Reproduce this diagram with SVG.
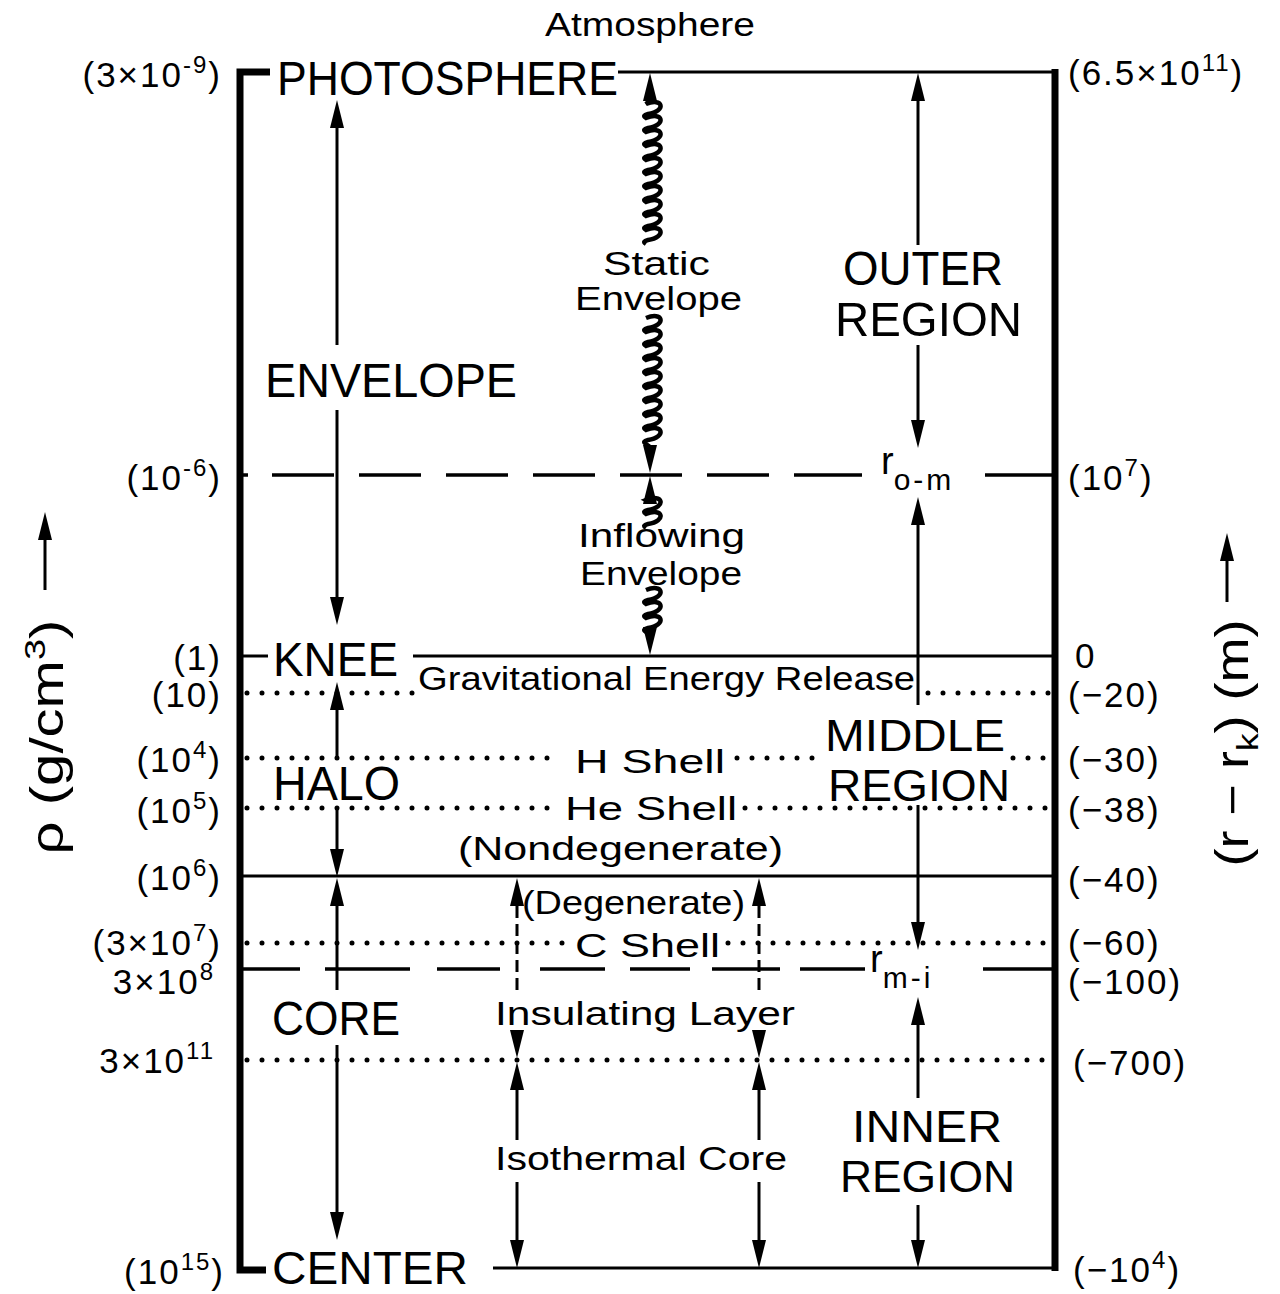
<svg xmlns="http://www.w3.org/2000/svg" width="1280" height="1294" viewBox="0 0 1280 1294">
<style>
.t{font-family:"Liberation Sans",Arial,sans-serif;fill:#000}
.big{font-size:49px}
.reg{font-size:44px}
.mid{font-size:34px}
.num{font-size:35px;letter-spacing:2px}
.ax{font-size:46px}
.frame{stroke:#000;stroke-width:7;fill:none}
.thin{stroke:#000;stroke-width:3;fill:none}
.dot{stroke:#000;stroke-width:5;stroke-dasharray:0 15;stroke-linecap:round;fill:none}
.dash{stroke:#000;stroke-width:3.5;fill:none}
.vd{stroke:#000;stroke-width:3;stroke-dasharray:12 6;fill:none}
.coil{stroke:#000;stroke-width:4.5;fill:none}
</style>
<defs>
<path id="ah" d="M0,0 L-7,28 L7,28 Z" fill="#000"/>
</defs>
<rect width="1280" height="1294" fill="#fff"/>

<g id="frame">
<path class="frame" d="M270,72 H240 V1270 H266"/>
<path class="frame" d="M1055,69 V1271"/>
<line class="thin" x1="618" y1="72" x2="1055" y2="72" stroke-width="4"/>
<line class="thin" x1="493" y1="1268" x2="1055" y2="1268" stroke-width="5"/>
<line class="thin" x1="240" y1="656" x2="268" y2="656" stroke-width="4"/>
<line class="thin" x1="413" y1="656" x2="1055" y2="656"/>
<line class="thin" x1="240" y1="876" x2="1055" y2="876"/>
<path class="dot" d="M247,693 H425 M928,693 H1050"/>
<path class="dot" d="M247,758 H557 M737,758 H815 M1013,758 H1050"/>
<path class="dot" d="M247,808 H555 M745,808 H1050"/>
<path class="dot" d="M247,943 H565 M728,943 H1050"/>
<path class="dot" d="M247,1060 H1050"/>
<path class="dash" d="M240,475 H248 M272,475 H334 M359,475 H421 M446,475 H508 M533,475 H595 M620,475 H682 M707,475 H769 M794,475 H862 M985,475 H1055"/>
<path class="dash" d="M240,969 H300 M325,969 H410 M437,969 H500 M540,969 H605 M630,969 H690 M712,969 H780 M800,969 H865 M983,969 H1055"/>
</g>

<g id="connectors">
<use href="#ah" x="337" y="100"/>
<line class="thin" x1="337" y1="127" x2="337" y2="345"/>
<line class="thin" x1="337" y1="410" x2="337" y2="598"/>
<use href="#ah" transform="translate(337,625) rotate(180)"/>
<use href="#ah" x="337" y="682"/>
<line class="thin" x1="337" y1="709" x2="337" y2="758"/>
<line class="thin" x1="337" y1="810" x2="337" y2="850"/>
<use href="#ah" transform="translate(337,877) rotate(180)"/>
<use href="#ah" x="337" y="878"/>
<line class="thin" x1="337" y1="905" x2="337" y2="990"/>
<line class="thin" x1="337" y1="1045" x2="337" y2="1213"/>
<use href="#ah" transform="translate(337,1240) rotate(180)"/>
<use href="#ah" x="650" y="73"/>
<path class="coil" d="M650,100 L646,104 c17,-7 21,7 2,10 c-4,1 -5,2 -2,4 c17,-7 21,7 2,10 c-4,1 -5,2 -2,4 c17,-7 21,7 2,10 c-4,1 -5,2 -2,4 c17,-7 21,7 2,10 c-4,1 -5,2 -2,4 c17,-7 21,7 2,10 c-4,1 -5,2 -2,4 c17,-7 21,7 2,10 c-4,1 -5,2 -2,4 c17,-7 21,7 2,10 c-4,1 -5,2 -2,4 c17,-7 21,7 2,10 c-4,1 -5,2 -2,4 c17,-7 21,7 2,10 c-4,1 -5,2 -2,4 c17,-7 21,7 2,10 c-4,1 -5,2 -2,4"/>
<path class="coil" d="M646,318 c17,-7 21,7 2,10 c-4,1 -5,2 -2,4 c17,-7 21,7 2,10 c-4,1 -5,2 -2,4 c17,-7 21,7 2,10 c-4,1 -5,2 -2,4 c17,-7 21,7 2,10 c-4,1 -5,2 -2,4 c17,-7 21,7 2,10 c-4,1 -5,2 -2,4 c17,-7 21,7 2,10 c-4,1 -5,2 -2,4 c17,-7 21,7 2,10 c-4,1 -5,2 -2,4 c17,-7 21,7 2,10 c-4,1 -5,2 -2,4 c17,-7 21,7 2,10 c-4,1 -5,2 -2,4 L650,447"/>
<use href="#ah" transform="translate(650,473) rotate(180)"/>
<use href="#ah" x="650" y="476"/>
<path class="coil" d="M650,502 L646,500 c17,-7 21,7 2,10 c-4,1 -5,2 -2,4 c17,-7 21,7 2,10 c-4,1 -5,2 -2,4"/>
<path class="coil" d="M646,590 c17,-7 21,7 2,10 c-4,1 -5,2 -2,4 c17,-7 21,7 2,10 c-4,1 -5,2 -2,4 c17,-7 21,7 2,10 c-4,1 -5,2 -2,4 L650,630"/>
<use href="#ah" transform="translate(650,655) rotate(180)"/>
<use href="#ah" x="918" y="73"/>
<line class="thin" x1="918" y1="100" x2="918" y2="245"/>
<line class="thin" x1="918" y1="345" x2="918" y2="421"/>
<use href="#ah" transform="translate(918,448) rotate(180)"/>
<use href="#ah" x="918" y="497"/>
<line class="thin" x1="918" y1="524" x2="918" y2="705"/>
<line class="thin" x1="918" y1="805" x2="918" y2="923"/>
<use href="#ah" transform="translate(918,950) rotate(180)"/>
<use href="#ah" x="918" y="997"/>
<line class="thin" x1="918" y1="1024" x2="918" y2="1098"/>
<line class="thin" x1="918" y1="1205" x2="918" y2="1241"/>
<use href="#ah" transform="translate(918,1268) rotate(180)"/>
<use href="#ah" x="517" y="878"/>
<line class="vd" x1="517" y1="906" x2="517" y2="994"/>
<use href="#ah" transform="translate(517,1058) rotate(180)"/>
<use href="#ah" x="517" y="1062"/>
<line class="thin" x1="517" y1="1089" x2="517" y2="1140"/>
<line class="thin" x1="517" y1="1182" x2="517" y2="1241"/>
<use href="#ah" transform="translate(517,1268) rotate(180)"/>
<use href="#ah" x="759" y="878"/>
<line class="vd" x1="759" y1="906" x2="759" y2="994"/>
<use href="#ah" transform="translate(759,1058) rotate(180)"/>
<use href="#ah" x="759" y="1062"/>
<line class="thin" x1="759" y1="1089" x2="759" y2="1140"/>
<line class="thin" x1="759" y1="1182" x2="759" y2="1241"/>
<use href="#ah" transform="translate(759,1268) rotate(180)"/>
<use href="#ah" x="45" y="512"/>
<line class="thin" x1="45" y1="538" x2="45" y2="590"/>
<use href="#ah" x="1227" y="533"/>
<line class="thin" x1="1227" y1="560" x2="1227" y2="602"/>
</g>

<g id="photosphere"><text class="t big" x="277" y="95" textLength="341" lengthAdjust="spacingAndGlyphs">PHOTOSPHERE</text></g>
<g id="envelope"><text class="t big" x="265" y="397" textLength="252" lengthAdjust="spacingAndGlyphs">ENVELOPE</text></g>
<g id="knee"><text class="t big" x="273" y="676" textLength="125" lengthAdjust="spacingAndGlyphs">KNEE</text></g>
<g id="halo"><text class="t big" x="273" y="800" textLength="127" lengthAdjust="spacingAndGlyphs">HALO</text></g>
<g id="core"><text class="t big" x="272" y="1035" textLength="128" lengthAdjust="spacingAndGlyphs">CORE</text></g>
<g id="center"><text class="t" font-size="46" x="272" y="1284" textLength="196" lengthAdjust="spacingAndGlyphs">CENTER</text></g>
<g id="outer-region">
<text class="t big" x="843" y="285" textLength="160" lengthAdjust="spacingAndGlyphs">OUTER</text>
<text class="t big" x="835" y="336" textLength="187" lengthAdjust="spacingAndGlyphs">REGION</text>
</g>
<g id="middle-region">
<text class="t reg" x="825" y="751" textLength="180" lengthAdjust="spacingAndGlyphs">MIDDLE</text>
<text class="t reg" x="828" y="801" textLength="182" lengthAdjust="spacingAndGlyphs">REGION</text>
</g>
<g id="inner-region">
<text class="t reg" x="852" y="1142" textLength="150" lengthAdjust="spacingAndGlyphs">INNER</text>
<text class="t reg" x="840" y="1192" textLength="175" lengthAdjust="spacingAndGlyphs">REGION</text>
</g>

<g id="atmosphere"><text class="t mid" x="545" y="36" textLength="210" lengthAdjust="spacingAndGlyphs">Atmosphere</text></g>
<g id="static-envelope">
<text class="t mid" x="603" y="275" textLength="107" lengthAdjust="spacingAndGlyphs">Static</text>
<text class="t mid" x="575" y="310" textLength="167" lengthAdjust="spacingAndGlyphs">Envelope</text>
</g>
<g id="inflowing-envelope">
<text class="t mid" x="578" y="547" textLength="167" lengthAdjust="spacingAndGlyphs">Inflowing</text>
<text class="t mid" x="580" y="585" textLength="162" lengthAdjust="spacingAndGlyphs">Envelope</text>
</g>
<g id="grav"><text class="t mid" x="418" y="690" textLength="497" lengthAdjust="spacingAndGlyphs">Gravitational Energy Release</text></g>
<g id="h-shell"><text class="t mid" x="575" y="773" textLength="150" lengthAdjust="spacingAndGlyphs">H Shell</text></g>
<g id="he-shell"><text class="t mid" x="565" y="820" textLength="172" lengthAdjust="spacingAndGlyphs">He Shell</text></g>
<g id="nondegenerate"><text class="t mid" x="458" y="860" textLength="325" lengthAdjust="spacingAndGlyphs">(Nondegenerate)</text></g>
<g id="degenerate"><text class="t mid" x="522" y="914" textLength="223" lengthAdjust="spacingAndGlyphs">(Degenerate)</text></g>
<g id="c-shell"><text class="t mid" x="575" y="957" textLength="145" lengthAdjust="spacingAndGlyphs">C Shell</text></g>
<g id="insulating"><text class="t mid" x="495" y="1025" textLength="300" lengthAdjust="spacingAndGlyphs">Insulating Layer</text></g>
<g id="isothermal"><text class="t mid" x="495" y="1170" textLength="292" lengthAdjust="spacingAndGlyphs">Isothermal Core</text></g>

<g id="r-om"><text class="t" font-size="38" x="881" y="474">r<tspan dy="16" font-size="30" letter-spacing="3">o-m</tspan></text></g>
<g id="r-mi"><text class="t" font-size="38" x="870" y="972">r<tspan dy="16" font-size="30" letter-spacing="3">m-i</tspan></text></g>

<g id="left-scale" text-anchor="end">
<text class="t num" x="222" y="87">(3×10<tspan dy="-14" font-size="24">-9</tspan><tspan dy="14">)</tspan></text>
<text class="t num" x="222" y="490">(10<tspan dy="-14" font-size="24">-6</tspan><tspan dy="14">)</tspan></text>
<text class="t num" x="222" y="670">(1)</text>
<text class="t num" x="222" y="707">(10)</text>
<text class="t num" x="222" y="772">(10<tspan dy="-14" font-size="24">4</tspan><tspan dy="14">)</tspan></text>
<text class="t num" x="222" y="823">(10<tspan dy="-14" font-size="24">5</tspan><tspan dy="14">)</tspan></text>
<text class="t num" x="222" y="890">(10<tspan dy="-14" font-size="24">6</tspan><tspan dy="14">)</tspan></text>
<text class="t num" x="222" y="955">(3×10<tspan dy="-14" font-size="24">7</tspan><tspan dy="14">)</tspan></text>
<text class="t num" x="215" y="994">3×10<tspan dy="-14" font-size="24">8</tspan></text>
<text class="t num" x="215" y="1073">3×10<tspan dy="-14" font-size="24">11</tspan></text>
<text class="t num" x="225" y="1284">(10<tspan dy="-14" font-size="24">15</tspan><tspan dy="14">)</tspan></text>
</g>

<g id="right-scale">
<text class="t num" x="1068" y="85">(6.5×10<tspan dy="-14" font-size="24">11</tspan><tspan dy="14">)</tspan></text>
<text class="t num" x="1068" y="490">(10<tspan dy="-14" font-size="24">7</tspan><tspan dy="14">)</tspan></text>
<text class="t num" x="1075" y="668">0</text>
<text class="t num" x="1068" y="707">(−20)</text>
<text class="t num" x="1068" y="772">(−30)</text>
<text class="t num" x="1068" y="822">(−38)</text>
<text class="t num" x="1068" y="892">(−40)</text>
<text class="t num" x="1068" y="955">(−60)</text>
<text class="t num" x="1068" y="994">(−100)</text>
<text class="t num" x="1073" y="1075">(−700)</text>
<text class="t num" x="1073" y="1282">(−10<tspan dy="-14" font-size="24">4</tspan><tspan dy="14">)</tspan></text>
</g>

<g id="left-axis"><text class="t ax" transform="translate(63,737) rotate(-90)" text-anchor="middle" textLength="235" lengthAdjust="spacingAndGlyphs">ρ (g/cm<tspan dy="-18" font-size="30">3</tspan><tspan dy="18">)</tspan></text></g>
<g id="right-axis"><text class="t ax" transform="translate(1248,743) rotate(-90)" text-anchor="middle" textLength="247" lengthAdjust="spacingAndGlyphs">(r − r<tspan dy="10" font-size="30">k</tspan><tspan dy="-10">) (m)</tspan></text></g>
</svg>
